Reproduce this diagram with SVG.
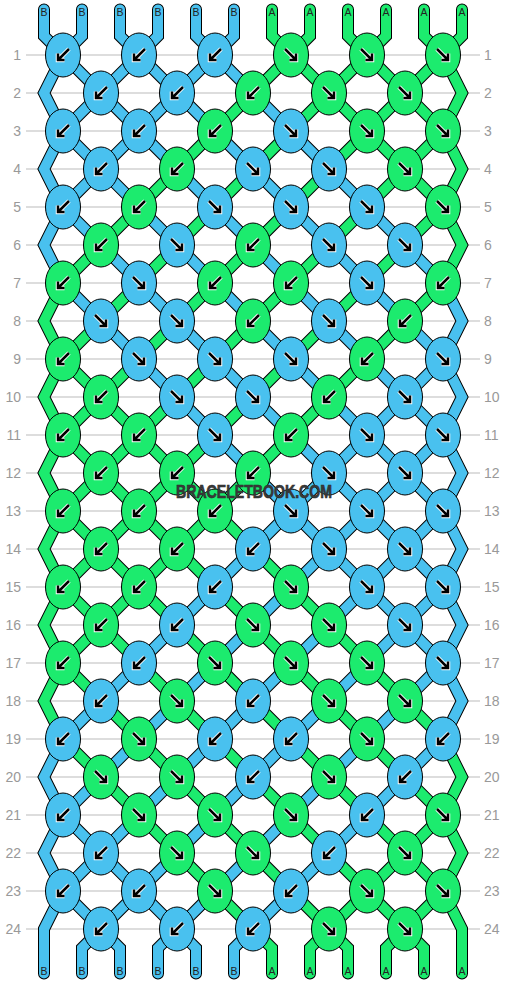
<svg xmlns="http://www.w3.org/2000/svg" xmlns:xlink="http://www.w3.org/1999/xlink" width="506" height="984" viewBox="0 0 506 984">
<style>
.grid{stroke:#bbb;stroke-width:1}
.rn{font-family:"Liberation Sans",Arial,sans-serif;font-size:14px;fill:#999}
.rl{text-anchor:end}
.sl{font-family:"Liberation Sans",Arial,sans-serif;font-size:10.5px;fill:#222;text-anchor:middle}
polyline{fill:none}
.o{stroke:#000;stroke-width:12;stroke-linecap:round}
.cb{stroke:#49c1ef;stroke-width:10;stroke-linecap:round}
.ca{stroke:#1ceb6e;stroke-width:10;stroke-linecap:round}
.kb{fill:#49c1ef;stroke:#000;stroke-width:1}
.ka{fill:#1ceb6e;stroke:#000;stroke-width:1}
.aw{fill:none;stroke:#fff;stroke-width:4.5}
.ak{fill:none;stroke:#000;stroke-width:2.5}
.wm{font-family:"Liberation Sans",Arial,sans-serif;font-weight:bold;font-size:18px;fill:#3a3a3a;stroke:#2a2a2a;stroke-width:0.6;text-anchor:middle}
</style>
<defs>
<path id="pdl" d="M6,-6 L-5,5 M-5,-1.5 L-5,5 L1.5,5"/>
<path id="pdr" d="M-6,-6 L5,5 M5,-1.5 L5,5 L-1.5,5"/>
<g id="dl"><use href="#pdl" class="aw"/><use href="#pdl" class="ak"/></g>
<g id="dr"><use href="#pdr" class="aw"/><use href="#pdr" class="ak"/></g>
<g id="Bl"><ellipse class="kb" rx="17.5" ry="22"/><use href="#dl"/></g>
<g id="Br"><ellipse class="kb" rx="17.5" ry="22"/><use href="#dr"/></g>
<g id="Al"><ellipse class="ka" rx="17.5" ry="22"/><use href="#dl"/></g>
<g id="Ar"><ellipse class="ka" rx="17.5" ry="22"/><use href="#dr"/></g>
<polyline id="t0" points="44,9.5 44,36 443,435 462,473 443,511 63,891 44,929 44,973.5"/>
<polyline id="t1" points="82,9.5 82,36 63,55 44,93 63,131 443,511 462,549 443,587 82,948 82,973.5"/>
<polyline id="t2" points="120,9.5 120,36 443,359 462,397 443,435 63,815 44,853 63,891 120,948 120,973.5"/>
<polyline id="t3" points="158,9.5 158,36 63,131 44,169 63,207 443,587 462,625 443,663 158,948 158,973.5"/>
<polyline id="t4" points="196,9.5 196,36 443,283 462,321 443,359 63,739 44,777 63,815 196,948 196,973.5"/>
<polyline id="t5" points="234,9.5 234,36 63,207 44,245 63,283 443,663 462,701 443,739 234,948 234,973.5"/>
<polyline id="t6" points="272,9.5 272,36 443,207 462,245 443,283 63,663 44,701 63,739 272,948 272,973.5"/>
<polyline id="t7" points="310,9.5 310,36 63,283 44,321 63,359 443,739 462,777 443,815 310,948 310,973.5"/>
<polyline id="t8" points="348,9.5 348,36 443,131 462,169 443,207 63,587 44,625 63,663 348,948 348,973.5"/>
<polyline id="t9" points="386,9.5 386,36 63,359 44,397 63,435 443,815 462,853 443,891 386,948 386,973.5"/>
<polyline id="t10" points="424,9.5 424,36 443,55 462,93 443,131 63,511 44,549 63,587 424,948 424,973.5"/>
<polyline id="t11" points="462,9.5 462,36 443,55 63,435 44,473 63,511 443,891 462,929 462,973.5"/>
</defs>
<rect width="506" height="984" fill="#fff"/>
<g id="grid">
<line class="grid" x1="26" y1="55" x2="480" y2="55"/><line class="grid" x1="26" y1="93" x2="480" y2="93"/>
<line class="grid" x1="26" y1="131" x2="480" y2="131"/><line class="grid" x1="26" y1="169" x2="480" y2="169"/>
<line class="grid" x1="26" y1="207" x2="480" y2="207"/><line class="grid" x1="26" y1="245" x2="480" y2="245"/>
<line class="grid" x1="26" y1="283" x2="480" y2="283"/><line class="grid" x1="26" y1="321" x2="480" y2="321"/>
<line class="grid" x1="26" y1="359" x2="480" y2="359"/><line class="grid" x1="26" y1="397" x2="480" y2="397"/>
<line class="grid" x1="26" y1="435" x2="480" y2="435"/><line class="grid" x1="26" y1="473" x2="480" y2="473"/>
<line class="grid" x1="26" y1="511" x2="480" y2="511"/><line class="grid" x1="26" y1="549" x2="480" y2="549"/>
<line class="grid" x1="26" y1="587" x2="480" y2="587"/><line class="grid" x1="26" y1="625" x2="480" y2="625"/>
<line class="grid" x1="26" y1="663" x2="480" y2="663"/><line class="grid" x1="26" y1="701" x2="480" y2="701"/>
<line class="grid" x1="26" y1="739" x2="480" y2="739"/><line class="grid" x1="26" y1="777" x2="480" y2="777"/>
<line class="grid" x1="26" y1="815" x2="480" y2="815"/><line class="grid" x1="26" y1="853" x2="480" y2="853"/>
<line class="grid" x1="26" y1="891" x2="480" y2="891"/><line class="grid" x1="26" y1="929" x2="480" y2="929"/>
</g>
<g id="rowlabels">
<text class="rn rl" x="21" y="60">1</text><text class="rn" x="484" y="60">1</text>
<text class="rn rl" x="21" y="98">2</text><text class="rn" x="484" y="98">2</text>
<text class="rn rl" x="21" y="136">3</text><text class="rn" x="484" y="136">3</text>
<text class="rn rl" x="21" y="174">4</text><text class="rn" x="484" y="174">4</text>
<text class="rn rl" x="21" y="212">5</text><text class="rn" x="484" y="212">5</text>
<text class="rn rl" x="21" y="250">6</text><text class="rn" x="484" y="250">6</text>
<text class="rn rl" x="21" y="288">7</text><text class="rn" x="484" y="288">7</text>
<text class="rn rl" x="21" y="326">8</text><text class="rn" x="484" y="326">8</text>
<text class="rn rl" x="21" y="364">9</text><text class="rn" x="484" y="364">9</text>
<text class="rn rl" x="21" y="402">10</text><text class="rn" x="484" y="402">10</text>
<text class="rn rl" x="21" y="440">11</text><text class="rn" x="484" y="440">11</text>
<text class="rn rl" x="21" y="478">12</text><text class="rn" x="484" y="478">12</text>
<text class="rn rl" x="21" y="516">13</text><text class="rn" x="484" y="516">13</text>
<text class="rn rl" x="21" y="554">14</text><text class="rn" x="484" y="554">14</text>
<text class="rn rl" x="21" y="592">15</text><text class="rn" x="484" y="592">15</text>
<text class="rn rl" x="21" y="630">16</text><text class="rn" x="484" y="630">16</text>
<text class="rn rl" x="21" y="668">17</text><text class="rn" x="484" y="668">17</text>
<text class="rn rl" x="21" y="706">18</text><text class="rn" x="484" y="706">18</text>
<text class="rn rl" x="21" y="744">19</text><text class="rn" x="484" y="744">19</text>
<text class="rn rl" x="21" y="782">20</text><text class="rn" x="484" y="782">20</text>
<text class="rn rl" x="21" y="820">21</text><text class="rn" x="484" y="820">21</text>
<text class="rn rl" x="21" y="858">22</text><text class="rn" x="484" y="858">22</text>
<text class="rn rl" x="21" y="896">23</text><text class="rn" x="484" y="896">23</text>
<text class="rn rl" x="21" y="934">24</text><text class="rn" x="484" y="934">24</text>
</g>
<g id="connectors">
<use href="#t0" class="o"/><use href="#t1" class="o"/><use href="#t2" class="o"/><use href="#t3" class="o"/>
<use href="#t4" class="o"/><use href="#t5" class="o"/><use href="#t6" class="o"/><use href="#t7" class="o"/>
<use href="#t8" class="o"/><use href="#t9" class="o"/><use href="#t10" class="o"/><use href="#t11" class="o"/>
<use href="#t0" class="cb"/><use href="#t1" class="cb"/><use href="#t2" class="cb"/><use href="#t3" class="cb"/>
<use href="#t4" class="cb"/><use href="#t5" class="cb"/><use href="#t6" class="ca"/><use href="#t7" class="ca"/>
<use href="#t8" class="ca"/><use href="#t9" class="ca"/><use href="#t10" class="ca"/><use href="#t11" class="ca"/>
</g>
<g id="strandlabels">
<text class="sl" x="44" y="16">B</text><text class="sl" x="82" y="16">B</text><text class="sl" x="120" y="16">B</text>
<text class="sl" x="158" y="16">B</text><text class="sl" x="196" y="16">B</text><text class="sl" x="234" y="16">B</text>
<text class="sl" x="272" y="16">A</text><text class="sl" x="310" y="16">A</text><text class="sl" x="348" y="16">A</text>
<text class="sl" x="386" y="16">A</text><text class="sl" x="424" y="16">A</text><text class="sl" x="462" y="16">A</text>
<text class="sl" x="44" y="975">B</text><text class="sl" x="82" y="975">B</text><text class="sl" x="120" y="975">B</text>
<text class="sl" x="158" y="975">B</text><text class="sl" x="196" y="975">B</text><text class="sl" x="234" y="975">B</text>
<text class="sl" x="272" y="975">A</text><text class="sl" x="310" y="975">A</text><text class="sl" x="348" y="975">A</text>
<text class="sl" x="386" y="975">A</text><text class="sl" x="424" y="975">A</text><text class="sl" x="462" y="975">A</text>
</g>
<g id="knots">
<g id="k1-1"><use href="#Bl" x="63" y="55"/></g><g id="k1-2"><use href="#Bl" x="139" y="55"/></g><g id="k1-3"><use href="#Bl" x="215" y="55"/></g><g id="k1-4"><use href="#Ar" x="291" y="55"/></g><g id="k1-5"><use href="#Ar" x="367" y="55"/></g><g id="k1-6"><use href="#Ar" x="443" y="55"/></g>
<g id="k2-1"><use href="#Bl" x="101" y="93"/></g><g id="k2-2"><use href="#Bl" x="177" y="93"/></g><g id="k2-3"><use href="#Al" x="253" y="93"/></g><g id="k2-4"><use href="#Ar" x="329" y="93"/></g><g id="k2-5"><use href="#Ar" x="405" y="93"/></g>
<g id="k3-1"><use href="#Bl" x="63" y="131"/></g><g id="k3-2"><use href="#Bl" x="139" y="131"/></g><g id="k3-3"><use href="#Al" x="215" y="131"/></g><g id="k3-4"><use href="#Br" x="291" y="131"/></g><g id="k3-5"><use href="#Ar" x="367" y="131"/></g><g id="k3-6"><use href="#Ar" x="443" y="131"/></g>
<g id="k4-1"><use href="#Bl" x="101" y="169"/></g><g id="k4-2"><use href="#Al" x="177" y="169"/></g><g id="k4-3"><use href="#Br" x="253" y="169"/></g><g id="k4-4"><use href="#Br" x="329" y="169"/></g><g id="k4-5"><use href="#Ar" x="405" y="169"/></g>
<g id="k5-1"><use href="#Bl" x="63" y="207"/></g><g id="k5-2"><use href="#Al" x="139" y="207"/></g><g id="k5-3"><use href="#Br" x="215" y="207"/></g><g id="k5-4"><use href="#Br" x="291" y="207"/></g><g id="k5-5"><use href="#Br" x="367" y="207"/></g><g id="k5-6"><use href="#Ar" x="443" y="207"/></g>
<g id="k6-1"><use href="#Al" x="101" y="245"/></g><g id="k6-2"><use href="#Br" x="177" y="245"/></g><g id="k6-3"><use href="#Al" x="253" y="245"/></g><g id="k6-4"><use href="#Br" x="329" y="245"/></g><g id="k6-5"><use href="#Br" x="405" y="245"/></g>
<g id="k7-1"><use href="#Al" x="63" y="283"/></g><g id="k7-2"><use href="#Br" x="139" y="283"/></g><g id="k7-3"><use href="#Al" x="215" y="283"/></g><g id="k7-4"><use href="#Al" x="291" y="283"/></g><g id="k7-5"><use href="#Br" x="367" y="283"/></g><g id="k7-6"><use href="#Al" x="443" y="283"/></g>
<g id="k8-1"><use href="#Br" x="101" y="321"/></g><g id="k8-2"><use href="#Br" x="177" y="321"/></g><g id="k8-3"><use href="#Al" x="253" y="321"/></g><g id="k8-4"><use href="#Br" x="329" y="321"/></g><g id="k8-5"><use href="#Al" x="405" y="321"/></g>
<g id="k9-1"><use href="#Al" x="63" y="359"/></g><g id="k9-2"><use href="#Br" x="139" y="359"/></g><g id="k9-3"><use href="#Br" x="215" y="359"/></g><g id="k9-4"><use href="#Br" x="291" y="359"/></g><g id="k9-5"><use href="#Al" x="367" y="359"/></g><g id="k9-6"><use href="#Br" x="443" y="359"/></g>
<g id="k10-1"><use href="#Al" x="101" y="397"/></g><g id="k10-2"><use href="#Br" x="177" y="397"/></g><g id="k10-3"><use href="#Br" x="253" y="397"/></g><g id="k10-4"><use href="#Al" x="329" y="397"/></g><g id="k10-5"><use href="#Br" x="405" y="397"/></g>
<g id="k11-1"><use href="#Al" x="63" y="435"/></g><g id="k11-2"><use href="#Al" x="139" y="435"/></g><g id="k11-3"><use href="#Br" x="215" y="435"/></g><g id="k11-4"><use href="#Al" x="291" y="435"/></g><g id="k11-5"><use href="#Br" x="367" y="435"/></g><g id="k11-6"><use href="#Br" x="443" y="435"/></g>
<g id="k12-1"><use href="#Al" x="101" y="473"/></g><g id="k12-2"><use href="#Al" x="177" y="473"/></g><g id="k12-3"><use href="#Al" x="253" y="473"/></g><g id="k12-4"><use href="#Br" x="329" y="473"/></g><g id="k12-5"><use href="#Br" x="405" y="473"/></g>
<g id="k13-1"><use href="#Al" x="63" y="511"/></g><g id="k13-2"><use href="#Al" x="139" y="511"/></g><g id="k13-3"><use href="#Al" x="215" y="511"/></g><g id="k13-4"><use href="#Br" x="291" y="511"/></g><g id="k13-5"><use href="#Br" x="367" y="511"/></g><g id="k13-6"><use href="#Br" x="443" y="511"/></g>
<g id="k14-1"><use href="#Al" x="101" y="549"/></g><g id="k14-2"><use href="#Al" x="177" y="549"/></g><g id="k14-3"><use href="#Bl" x="253" y="549"/></g><g id="k14-4"><use href="#Br" x="329" y="549"/></g><g id="k14-5"><use href="#Br" x="405" y="549"/></g>
<g id="k15-1"><use href="#Al" x="63" y="587"/></g><g id="k15-2"><use href="#Al" x="139" y="587"/></g><g id="k15-3"><use href="#Bl" x="215" y="587"/></g><g id="k15-4"><use href="#Ar" x="291" y="587"/></g><g id="k15-5"><use href="#Br" x="367" y="587"/></g><g id="k15-6"><use href="#Br" x="443" y="587"/></g>
<g id="k16-1"><use href="#Al" x="101" y="625"/></g><g id="k16-2"><use href="#Bl" x="177" y="625"/></g><g id="k16-3"><use href="#Ar" x="253" y="625"/></g><g id="k16-4"><use href="#Ar" x="329" y="625"/></g><g id="k16-5"><use href="#Br" x="405" y="625"/></g>
<g id="k17-1"><use href="#Al" x="63" y="663"/></g><g id="k17-2"><use href="#Bl" x="139" y="663"/></g><g id="k17-3"><use href="#Ar" x="215" y="663"/></g><g id="k17-4"><use href="#Ar" x="291" y="663"/></g><g id="k17-5"><use href="#Ar" x="367" y="663"/></g><g id="k17-6"><use href="#Br" x="443" y="663"/></g>
<g id="k18-1"><use href="#Bl" x="101" y="701"/></g><g id="k18-2"><use href="#Ar" x="177" y="701"/></g><g id="k18-3"><use href="#Bl" x="253" y="701"/></g><g id="k18-4"><use href="#Ar" x="329" y="701"/></g><g id="k18-5"><use href="#Ar" x="405" y="701"/></g>
<g id="k19-1"><use href="#Bl" x="63" y="739"/></g><g id="k19-2"><use href="#Ar" x="139" y="739"/></g><g id="k19-3"><use href="#Bl" x="215" y="739"/></g><g id="k19-4"><use href="#Bl" x="291" y="739"/></g><g id="k19-5"><use href="#Ar" x="367" y="739"/></g><g id="k19-6"><use href="#Bl" x="443" y="739"/></g>
<g id="k20-1"><use href="#Ar" x="101" y="777"/></g><g id="k20-2"><use href="#Ar" x="177" y="777"/></g><g id="k20-3"><use href="#Bl" x="253" y="777"/></g><g id="k20-4"><use href="#Ar" x="329" y="777"/></g><g id="k20-5"><use href="#Bl" x="405" y="777"/></g>
<g id="k21-1"><use href="#Bl" x="63" y="815"/></g><g id="k21-2"><use href="#Ar" x="139" y="815"/></g><g id="k21-3"><use href="#Ar" x="215" y="815"/></g><g id="k21-4"><use href="#Ar" x="291" y="815"/></g><g id="k21-5"><use href="#Bl" x="367" y="815"/></g><g id="k21-6"><use href="#Ar" x="443" y="815"/></g>
<g id="k22-1"><use href="#Bl" x="101" y="853"/></g><g id="k22-2"><use href="#Ar" x="177" y="853"/></g><g id="k22-3"><use href="#Ar" x="253" y="853"/></g><g id="k22-4"><use href="#Bl" x="329" y="853"/></g><g id="k22-5"><use href="#Ar" x="405" y="853"/></g>
<g id="k23-1"><use href="#Bl" x="63" y="891"/></g><g id="k23-2"><use href="#Bl" x="139" y="891"/></g><g id="k23-3"><use href="#Ar" x="215" y="891"/></g><g id="k23-4"><use href="#Bl" x="291" y="891"/></g><g id="k23-5"><use href="#Ar" x="367" y="891"/></g><g id="k23-6"><use href="#Ar" x="443" y="891"/></g>
<g id="k24-1"><use href="#Bl" x="101" y="929"/></g><g id="k24-2"><use href="#Bl" x="177" y="929"/></g><g id="k24-3"><use href="#Bl" x="253" y="929"/></g><g id="k24-4"><use href="#Ar" x="329" y="929"/></g><g id="k24-5"><use href="#Ar" x="405" y="929"/></g>
</g>
<text class="wm" x="254" y="498" textLength="156" lengthAdjust="spacingAndGlyphs">BRACELETBOOK.COM</text>
</svg>
